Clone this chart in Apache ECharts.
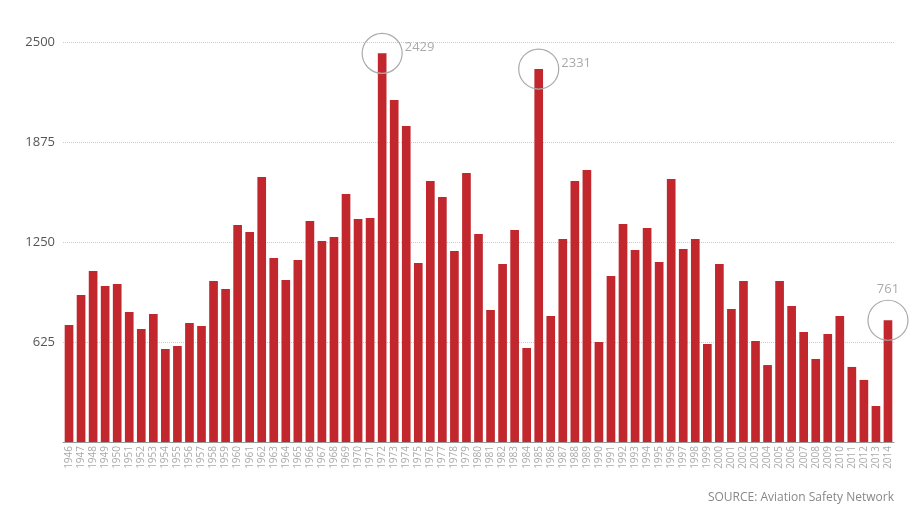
<!DOCTYPE html>
<html><head><meta charset="utf-8">
<script src="https://cdn.jsdelivr.net/npm/echarts@6/dist/echarts.min.js"></script>
<style>html,body{margin:0;padding:0;background:#fff}#c{width:924px;height:520px}</style>
</head><body><div id="c"></div>
<script>
const years = [];
for (let y = 1946; y <= 2014; y++) years.push(String(y));
const fatalities = [731,919,1069,975,988,813,706,800,581,600,744,725,1006,956,1356,1313,1656,1150,1013,1138,1381,1256,1281,1550,1394,1400,2429,2138,1975,1119,1631,1531,1194,1681,1300,825,1113,1325,588,2331,788,1269,1631,1700,625,1038,1363,1200,1338,1125,1644,1206,1269,613,1113,831,1006,631,481,1006,850,688,519,675,788,469,388,225,761];
const yTicks = [0,625,1250,1875,2500];
const highlights = [
  {year:'1972', value:2429, pos:'right'},
  {year:'1985', value:2331, pos:'right'},
  {year:'2014', value:761, pos:'top'}
];
const chart = echarts.init(document.getElementById('c'));
chart.setOption({
  animation:false,
  grid:{left:63,right:30,top:42,bottom:78},
  xAxis:{type:'category',data:years,
    axisLine:{lineStyle:{color:'#999'}},axisTick:{show:false},
    axisLabel:{rotate:90,interval:0,color:'#aaa',fontSize:10,fontFamily:'Open Sans',margin:4}},
  yAxis:{type:'value',min:0,max:2500,interval:625,
    axisLine:{show:false},axisTick:{show:false},
    splitLine:{lineStyle:{color:'#ccc',type:'dotted'}},
    axisLabel:{color:'#555',fontSize:13,fontFamily:'Open Sans',margin:8,
      formatter:v=>yTicks.includes(v)&&v>0?String(v):''}},
  series:[{type:'bar',data:fatalities,barCategoryGap:'28%',
    itemStyle:{color:'#c1272d'},
    markPoint:{symbol:'circle',symbolSize:40,
      itemStyle:{color:'rgba(0,0,0,0)',borderColor:'#aaa',borderWidth:1.2},
      data:highlights.map(h=>({coord:[h.year,h.value],value:h.value,
        label:{show:true,position:h.pos,distance:h.pos==='top'?4:2,offset:h.pos==='right'?[0,-6]:[0,0],
          color:'#aaa',fontSize:13,fontFamily:'Open Sans',formatter:String(h.value)}}))}}],
  graphic:[{type:'text',right:30,bottom:16,style:{text:'SOURCE: Aviation Safety Network',fill:'#888',fontSize:12,fontFamily:'Open Sans'}}]
});
</script></body></html>
